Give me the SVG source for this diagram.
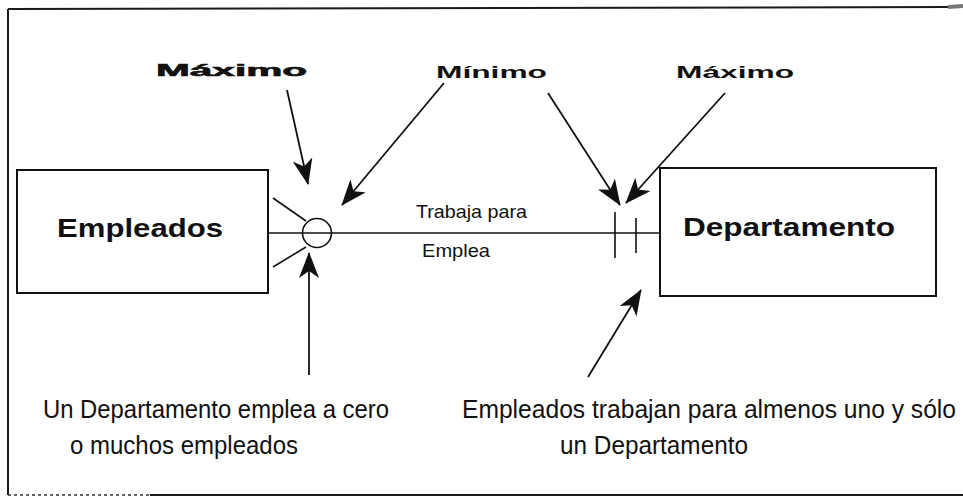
<svg xmlns="http://www.w3.org/2000/svg" width="963" height="504" viewBox="0 0 963 504">
<style>
  .frame{fill:none;stroke:#1a1a1a;stroke-width:2}
  .box{fill:#ffffff;stroke:#111;stroke-width:2}
  .ln{fill:none;stroke:#111;stroke-width:1.6}
  .arr{fill:none;stroke:#111;stroke-width:1.8}
  .lbl{font-family:"Liberation Sans",Arial,sans-serif;fill:#111}
  .title{font-size:25px;font-weight:bold}
  .cap{font-size:16px;font-weight:bold}
  .rel{font-size:19px}
  .note{font-size:25px}
</style>
<defs>
  <marker id="ah" markerUnits="userSpaceOnUse" viewBox="0 0 26 20" refX="25" refY="10" markerWidth="26" markerHeight="20" orient="auto">
    <path d="M0,0 L26,10 L0,20 L7,10 z" fill="#111"/>
  </marker>
</defs>
<rect width="963" height="504" fill="#ffffff"/>
<g id="frame">
  <line class="frame" x1="8" y1="9" x2="950" y2="7"/>
  <line x1="948" y1="7" x2="963" y2="6" stroke="#777" stroke-width="4"/>
  <line class="frame" x1="8" y1="9" x2="8" y2="495"/>
  <line x1="8" y1="495" x2="150" y2="495" stroke="#333" stroke-width="1.5" stroke-dasharray="3 3"/>
  <line class="frame" x1="150" y1="495" x2="963" y2="495"/>
</g>
<g id="connectors">
  <line class="ln" x1="268" y1="233" x2="660" y2="233"/>
  <circle class="ln" cx="317" cy="233" r="14.5" fill="none"/>
  <line class="ln" x1="273" y1="198" x2="306" y2="221"/>
  <line class="ln" x1="273" y1="267" x2="306" y2="247"/>
  <line class="ln" x1="615" y1="212" x2="615" y2="258" stroke-width="2"/>
  <line class="ln" x1="636" y1="218" x2="636" y2="253" stroke-width="2"/>
  <line class="arr" x1="287" y1="90" x2="308" y2="184" marker-end="url(#ah)"/>
  <line class="arr" x1="444" y1="83" x2="342" y2="205" marker-end="url(#ah)"/>
  <line class="arr" x1="548" y1="93" x2="620" y2="205" marker-end="url(#ah)"/>
  <line class="arr" x1="725" y1="93" x2="626" y2="203" marker-end="url(#ah)"/>
  <line class="arr" x1="309" y1="375" x2="309" y2="253" marker-end="url(#ah)"/>
  <line class="arr" x1="588" y1="377" x2="641" y2="290" marker-end="url(#ah)"/>
</g>
<g id="empleados">
  <rect class="box" x="17" y="170" width="251" height="123"/>
  <text class="lbl title" x="57" y="237" textLength="166" lengthAdjust="spacingAndGlyphs">Empleados</text>
</g>
<g id="departamento">
  <rect class="box" x="660" y="168" width="276" height="128"/>
  <text class="lbl title" x="683" y="236" textLength="212" lengthAdjust="spacingAndGlyphs">Departamento</text>
</g>
<g id="labels">
  <text class="lbl cap" x="156" y="76" textLength="151" lengthAdjust="spacingAndGlyphs" stroke="#111" stroke-width="0.6">Máximo</text>
  <text class="lbl cap" x="436" y="78" textLength="111" lengthAdjust="spacingAndGlyphs">Mínimo</text>
  <text class="lbl cap" x="676" y="78" textLength="118" lengthAdjust="spacingAndGlyphs">Máximo</text>
  <text class="lbl rel" x="416" y="218" textLength="111" lengthAdjust="spacingAndGlyphs">Trabaja para</text>
  <text class="lbl rel" x="422" y="257" textLength="68" lengthAdjust="spacingAndGlyphs">Emplea</text>
  <text class="lbl note" x="43" y="418" textLength="346" lengthAdjust="spacingAndGlyphs">Un Departamento emplea a cero</text>
  <text class="lbl note" x="70" y="454" textLength="228" lengthAdjust="spacingAndGlyphs">o muchos empleados</text>
  <text class="lbl note" x="462" y="418" textLength="494" lengthAdjust="spacingAndGlyphs">Empleados trabajan para almenos uno y sólo</text>
  <text class="lbl note" x="560" y="454" textLength="188" lengthAdjust="spacingAndGlyphs">un Departamento</text>
</g>
</svg>
